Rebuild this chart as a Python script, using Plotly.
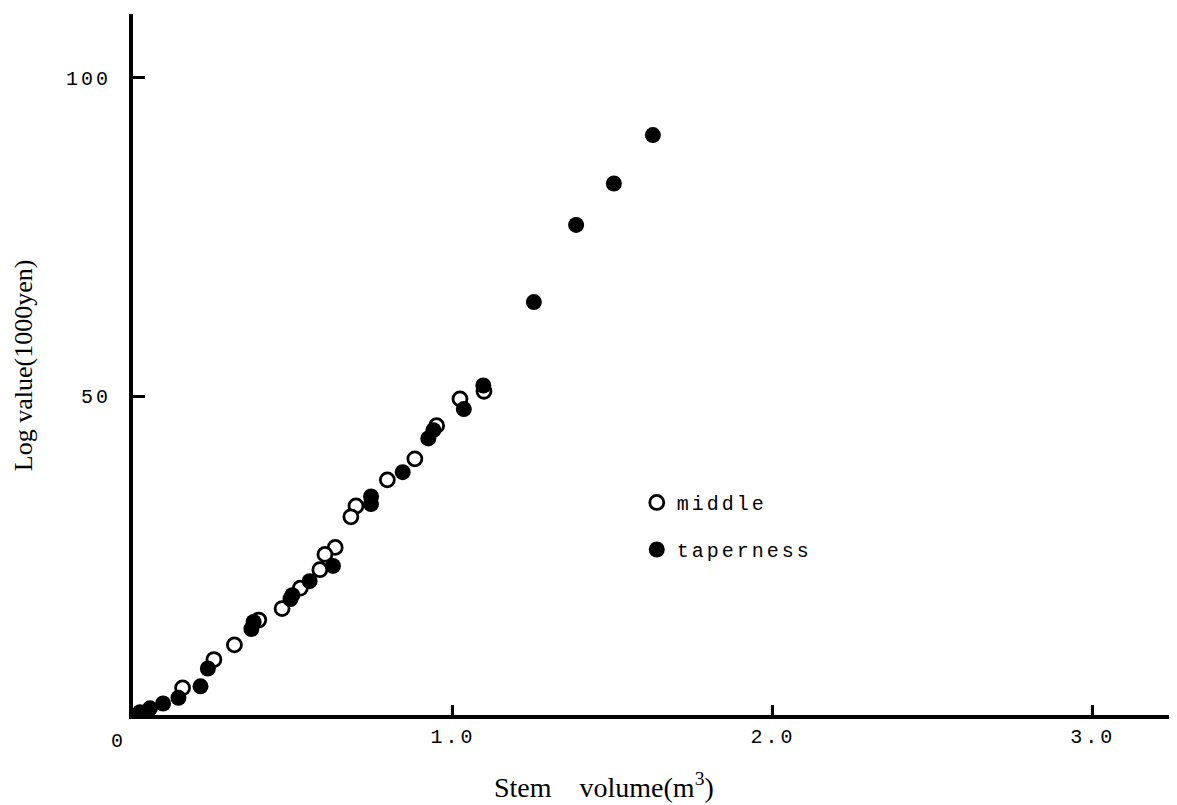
import plotly.graph_objects as go

# Stem volume (m3) vs log value (1000 yen)
middle_x = [1.097, 1.022, 0.949, 0.881, 0.795, 0.697, 0.681, 0.632, 0.600, 0.584,
            0.523, 0.466, 0.393, 0.317, 0.253, 0.155]
middle_y = [50.8, 49.6, 45.4, 40.2, 36.9, 32.8, 31.1, 26.3, 25.2, 22.8,
            19.9, 16.7, 14.9, 11.0, 8.7, 4.25]

taper_x = [1.625, 1.503, 1.385, 1.253, 1.095, 1.034, 0.939, 0.923, 0.843, 0.744,
           0.744, 0.625, 0.552, 0.498, 0.492, 0.377, 0.370, 0.234, 0.211, 0.142,
           0.094, 0.053, 0.022]
taper_y = [91.0, 83.4, 76.9, 64.8, 51.7, 48.0, 44.7, 43.4, 38.1, 34.3,
           33.1, 23.4, 21.0, 18.8, 18.2, 14.6, 13.5, 7.3, 4.5, 2.7,
           1.8, 1.05, 0.45]

x_ticks = [1.0, 2.0, 3.0]
x_ticktext = ["1.0", "2.0", "3.0"]
y_ticks = [50, 100]
y_ticktext = ["50", "100"]

MONO = "Liberation Mono"
SERIF = "Liberation Serif"

def spaced(s, px=3):
    return f"<span style='letter-spacing:{px}px'>{s}</span>"

fig = go.Figure()
fig.add_trace(go.Scatter(
    x=middle_x, y=middle_y, mode="markers", name=spaced("middle"),
    legendgroup="a",
    marker=dict(symbol="circle", size=14, color="white",
                line=dict(color="black", width=2.8)),
))
fig.add_trace(go.Scatter(
    x=taper_x, y=taper_y, mode="markers", name=spaced("taperness"),
    legendgroup="b",
    marker=dict(symbol="circle", size=16, color="black",
                line=dict(color="black", width=0)),
))

fig.update_layout(
    width=1169, height=797,
    margin=dict(l=125, r=1, t=6, b=90),
    paper_bgcolor="white", plot_bgcolor="white",
    showlegend=True,
    legend=dict(x=0.483, y=0.331, xanchor="left", yanchor="top",
                font=dict(family=MONO, size=20, color="black"),
                traceorder="grouped", tracegroupgap=18,
                bgcolor="rgba(0,0,0,0)"),
    xaxis=dict(range=[0, 3.26], showgrid=False, zeroline=False,
               showline=True, linecolor="black", linewidth=4,
               ticks="inside", ticklen=10, tickwidth=3, tickcolor="black",
               tickvals=x_ticks, ticktext=[spaced(t) for t in x_ticktext],
               ticklabelstandoff=0,
               tickfont=dict(family=MONO, size=20, color="black")),
    yaxis=dict(range=[0, 110], showgrid=False, zeroline=False,
               showline=True, linecolor="black", linewidth=4,
               ticks="inside", ticklen=12, tickwidth=3, tickcolor="black",
               tickvals=y_ticks, ticktext=[spaced(t) for t in y_ticktext],
               ticklabelstandoff=14,
               tickfont=dict(family=MONO, size=20, color="black")),
    annotations=[
        dict(text=spaced("0"), x=0, y=0, xref="x", yref="y", showarrow=False,
             xshift=-15, yshift=-26,
             font=dict(family=MONO, size=20, color="black")),
        dict(text="Stem\u00a0\u00a0\u00a0\u00a0volume(m<sup>3</sup>)",
             x=0.4516, y=-0.1, xref="paper", yref="paper",
             showarrow=False, xanchor="center", yanchor="middle",
             font=dict(family=SERIF, size=28, color="black")),
        dict(text="Log value(1000yen)", textangle=-90,
             x=-0.1055, y=0.499, xref="paper", yref="paper",
             showarrow=False, xanchor="center", yanchor="middle",
             font=dict(family=SERIF, size=26, color="black")),
    ],
)

fig.write_html("out.html")
